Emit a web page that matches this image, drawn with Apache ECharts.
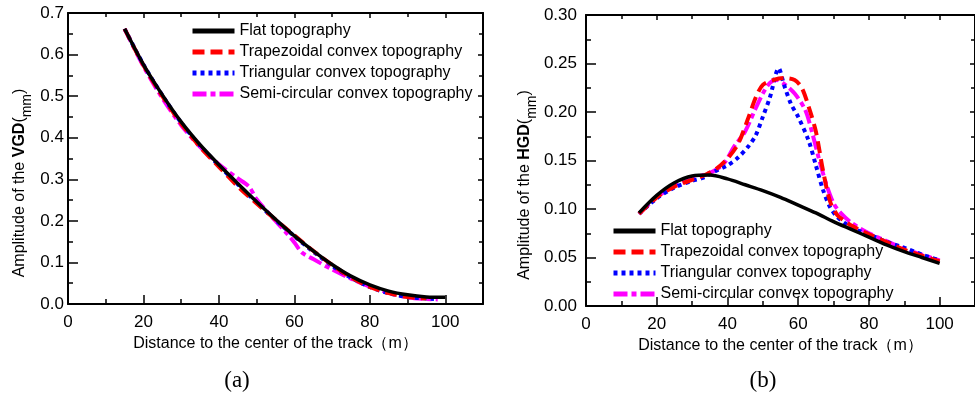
<!DOCTYPE html>
<html>
<head>
<meta charset="utf-8">
<script src="https://cdn.jsdelivr.net/npm/echarts@6/dist/echarts.min.js"></script>
<style>
  html, body { margin: 0; padding: 0; background: #fff; }
  #chart { width: 975px; height: 397px; }
</style>
</head>
<body>
<div id="chart"></div>
<script>
// series names
const seriesNames = [
  "Flat topography",
  "Trapezoidal convex topography",
  "Triangular convex topography",
  "Semi-circular convex topography",
]

// (a) VGD amplitude, [distance, value]
const vgdFlat = [[15,0.662],[20,0.576],[25,0.503],[30,0.438],[35,0.383],[40,0.335],[45,0.290],[50,0.246],[55,0.204],[60,0.164],[65,0.128],[70,0.095],[75,0.067],[80,0.046],[85,0.031],[90,0.022],[95,0.017],[100,0.016]]
const vgdTrap = [[15,0.662],[20,0.574],[25,0.500],[30,0.434],[35,0.378],[40,0.330],[45,0.283],[50,0.242],[55,0.203],[60,0.165],[65,0.128],[70,0.094],[75,0.064],[80,0.041],[85,0.026],[90,0.017],[95,0.013]]
const vgdTri = [[15,0.662],[20,0.576],[25,0.502],[30,0.436],[35,0.381],[40,0.333],[45,0.288],[50,0.244],[55,0.202],[60,0.163],[65,0.126],[70,0.092],[75,0.063],[80,0.041],[85,0.026],[90,0.017],[95,0.013],[97,0.012]]
const vgdSemi = [[15,0.662],[20,0.572],[25,0.495],[30,0.430],[35,0.378],[40,0.336],[45,0.302],[48,0.282],[50,0.252],[55,0.200],[58,0.170],[60,0.148],[62,0.124],[65,0.108],[70,0.083],[75,0.061],[80,0.042],[85,0.027],[90,0.016],[95,0.012],[98,0.011]]

// (b) HGD amplitude, [distance, value]
const hgdFlat = [[15,0.096],[20,0.114],[25,0.127],[30,0.134],[35,0.135],[40,0.131],[45,0.125],[50,0.119],[55,0.112],[60,0.104],[65,0.096],[70,0.087],[75,0.079],[80,0.071],[85,0.063],[90,0.056],[95,0.050],[100,0.044]]
const hgdTrap = [[15,0.095],[20,0.112],[25,0.123],[30,0.130],[33,0.134],[37,0.142],[40,0.152],[43,0.167],[46,0.195],[48,0.215],[50,0.228],[53,0.233],[56,0.235],[59,0.233],[61,0.225],[63,0.205],[65,0.180],[67,0.140],[69,0.108],[71,0.094],[73,0.088],[75,0.083],[80,0.074],[85,0.066],[90,0.058],[95,0.052],[100,0.046]]
const hgdTri = [[15,0.095],[20,0.111],[25,0.122],[30,0.129],[33,0.132],[36,0.138],[40,0.145],[43,0.153],[46,0.165],[48,0.176],[50,0.195],[52,0.215],[54.5,0.245],[56,0.228],[58,0.208],[60,0.195],[63,0.170],[65,0.145],[67,0.120],[69,0.102],[71,0.092],[73,0.086],[76,0.079],[80,0.074],[85,0.066],[90,0.060],[95,0.053],[100,0.047]]
const hgdSemi = [[15,0.095],[20,0.112],[25,0.124],[30,0.131],[33,0.135],[36,0.139],[39,0.147],[42,0.165],[45,0.180],[48,0.204],[50,0.219],[52,0.230],[54,0.233],[56,0.229],[59,0.219],[62,0.202],[64,0.178],[66,0.150],[68,0.125],[70,0.106],[72,0.096],[75,0.086],[80,0.075],[85,0.067],[90,0.059],[95,0.053],[100,0.047]]

const FONT = "Liberation Sans, Arial, sans-serif"

// line styles per topography
const lineStyles = [
  { color: "#000000", width: 3.5, type: "solid" },
  { color: "#ff0000", width: 4, type: [12, 6] },
  { color: "#0000ff", width: 4, type: [4, 4] },
  { color: "#ff00ff", width: 4, type: [14, 4, 5, 4] },
]

const chart = echarts.init(document.getElementById("chart"))

function bottomAxis(gridIndex, nameGap) {
  return {
    type: "value", gridIndex, min: 0, max: 110, interval: 20,
    name: "Distance to the center of the track\uff08m\uff09",
    nameLocation: "middle", nameGap,
    nameTextStyle: { color: "#000", fontFamily: FONT, fontSize: 16 },
    axisLine: { show: true, onZero: false, lineStyle: { color: "#000", width: 2 } },
    axisTick: { show: true, inside: true, length: 9, lineStyle: { color: "#000", width: 1.5 } },
    minorTick: { show: true, splitNumber: 2, length: 5, lineStyle: { color: "#000", width: 1.5 } },
    axisLabel: { color: "#000", fontFamily: FONT, fontSize: 17, margin: 10, showMaxLabel: false },
    splitLine: { show: false },
  }
}

function topAxis(gridIndex) {
  return {
    type: "value", gridIndex, position: "top", min: 0, max: 110, interval: 20,
    axisLine: { show: true, onZero: false, lineStyle: { color: "#000", width: 2 } },
    axisTick: { show: true, inside: true, length: 5, lineStyle: { color: "#000", width: 1.5 } },
    minorTick: { show: true, splitNumber: 2, length: 4, lineStyle: { color: "#000", width: 1.5 } },
    axisLabel: { show: false },
    splitLine: { show: false },
  }
}

function leftAxis(gridIndex, max, interval, digits, margin) {
  return {
    type: "value", gridIndex, min: 0, max, interval,
    axisLine: { show: true, onZero: false, lineStyle: { color: "#000", width: 2 } },
    axisTick: { show: true, inside: true, length: 10, lineStyle: { color: "#000", width: 1.5 } },
    minorTick: { show: true, splitNumber: 2, length: 5, lineStyle: { color: "#000", width: 1.5 } },
    axisLabel: { color: "#000", fontFamily: FONT, fontSize: 17, margin, formatter: (v) => v.toFixed(digits) },
    splitLine: { show: false },
  }
}

function rightAxis(gridIndex, max, interval) {
  return {
    type: "value", gridIndex, position: "right", min: 0, max, interval,
    axisLine: { show: true, onZero: false, lineStyle: { color: "#000", width: 2 } },
    axisTick: { show: true, inside: true, length: 5, lineStyle: { color: "#000", width: 1.5 } },
    minorTick: { show: true, splitNumber: 2, length: 4, lineStyle: { color: "#000", width: 1.5 } },
    axisLabel: { show: false },
    splitLine: { show: false },
  }
}

function makeSeries(data, idx, axisIdx) {
  return {
    name: seriesNames[idx],
    type: "line",
    xAxisIndex: axisIdx,
    yAxisIndex: axisIdx,
    data,
    showSymbol: false,
    symbol: "none",
    smooth: 0.3,
    lineStyle: lineStyles[idx],
    itemStyle: { color: lineStyles[idx].color },
    z: 10 - idx,
  }
}

function yTitle(x, y, code) {
  return {
    type: "text", x, y, rotation: Math.PI / 2,
    style: {
      text: "{n|Amplitude of the }{b|" + code + "}{n|(}{s|mm}{n|)}",
      align: "center", verticalAlign: "middle",
      rich: {
        n: { fontFamily: FONT, fontSize: 16, fill: "#000", lineHeight: 28, verticalAlign: "middle" },
        b: { fontFamily: FONT, fontSize: 16, fontWeight: "bold", fill: "#000", lineHeight: 28, verticalAlign: "middle" },
        s: { fontFamily: FONT, fontSize: 14, fill: "#000", lineHeight: 28, verticalAlign: "bottom" },
      },
    },
  }
}

const legendBase = {
  orient: "vertical",
  padding: 0,
  itemWidth: 42,
  itemHeight: 14,
  itemGap: 5,
  data: seriesNames,
  itemStyle: { opacity: 0 },
  lineStyle: { width: 5 },
  textStyle: { color: "#000", fontFamily: FONT, fontSize: 16 },
  selectedMode: false,
}

const option = {
  animation: false,
  backgroundColor: "#fff",
  grid: [
    { left: 68, top: 13, right: 492, bottom: 93 },
    { left: 586, top: 15, right: -9, bottom: 91 },
  ],
  xAxis: [bottomAxis(0, 30), bottomAxis(1, 28), topAxis(0), topAxis(1)],
  yAxis: [
    leftAxis(0, 0.7, 0.1, 1, 4),
    leftAxis(1, 0.3, 0.05, 2, 9),
    rightAxis(0, 0.7, 0.1),
    rightAxis(1, 0.3, 0.05),
  ],
  legend: [
    Object.assign({}, legendBase, { left: 190, top: 23 }),
    Object.assign({}, legendBase, { left: 611, top: 223 }),
  ],
  graphic: [
    yTitle(20, 183, "VGD"),
    yTitle(525, 185, "HGD"),
    { type: "text", x: 237, y: 381, style: { text: "(a)", align: "center", verticalAlign: "middle", fontFamily: "Liberation Serif, Times New Roman, serif", fontSize: 23, fill: "#000" } },
    { type: "text", x: 763, y: 381, style: { text: "(b)", align: "center", verticalAlign: "middle", fontFamily: "Liberation Serif, Times New Roman, serif", fontSize: 23, fill: "#000" } },
  ],
  series: [
    makeSeries(vgdFlat, 0, 0),
    makeSeries(vgdTrap, 1, 0),
    makeSeries(vgdTri, 2, 0),
    makeSeries(vgdSemi, 3, 0),
    makeSeries(hgdFlat, 0, 1),
    makeSeries(hgdTrap, 1, 1),
    makeSeries(hgdTri, 2, 1),
    makeSeries(hgdSemi, 3, 1),
  ],
}

chart.setOption(option)
</script>
</body>
</html>
